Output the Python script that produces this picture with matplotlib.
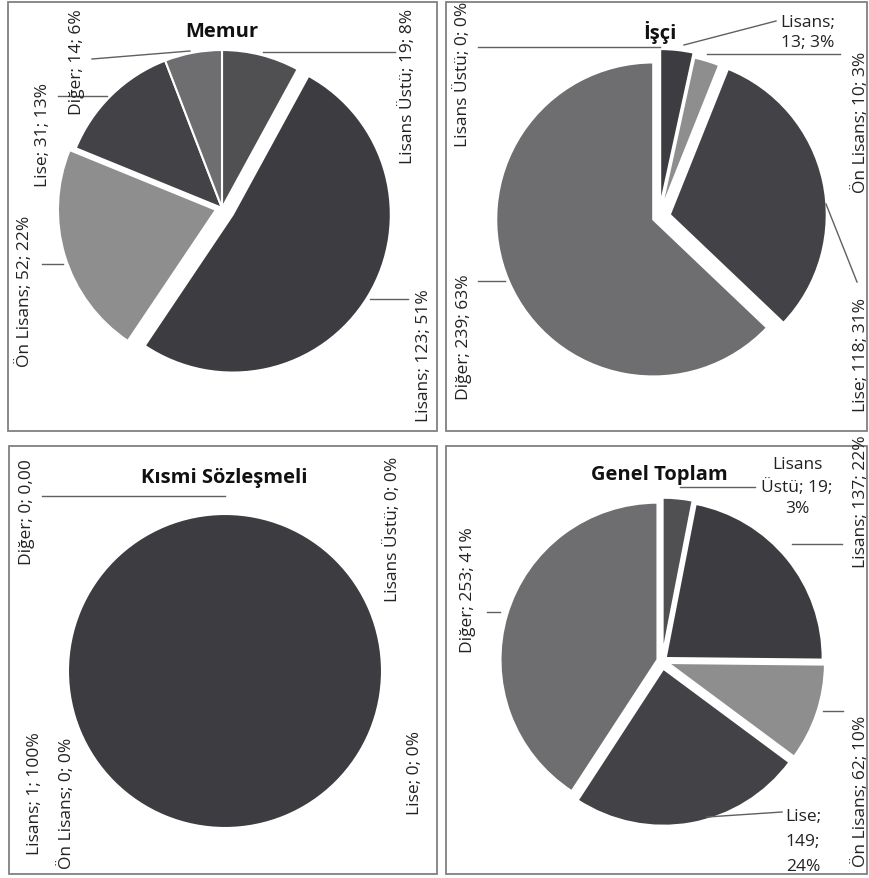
import matplotlib.pyplot as plt
from matplotlib.patches import Rectangle

plt.rcParams['font.family'] = ['Open Sans', 'DejaVu Sans']

# -------------------------------
# DATA
# -------------------------------

categories = ["Lisans Üstü", "Lisans", "Ön Lisans", "Lise", "Diğer"]

memur = [19, 123, 52, 31, 14]
isci = [0, 13, 10, 118, 239]
kismi = [0, 1, 0, 0, 0]
genel = [19, 137, 62, 149, 253]

titles = ["Memur", "İşçi", "Kısmi Sözleşmeli", "Genel Toplam"]

# the part-time chart prints its last share as a plain number
kismi_pct_text = {4: "0,00"}

slice_colors = ["#505053", "#3c3c41", "#8e8e8e", "#434347", "#6e6e70"]

# -------------------------------
# LAYOUT (pixels, origin top-left)
# -------------------------------

W, H = 869, 879

panels = [
    dict(values=memur, title=titles[0], box=(8, 3, 437, 432), title_xy=(222, 32),
         center=(222, 209), radius=158, explode=[0, 0.08, 0.04, 0, 0],
         labels=[(408, 86, 90), (424, 356, 90), (25, 291, 90), (43, 135, 90), (77, 62, 90)],
         leaders=[((395, 53), (263, 53)), ((408, 300), (370, 300)), ((42, 265), (63, 265)),
                  ((58, 97), (107, 97)), ((92, 60), (190, 52))]),
    dict(values=isci, title=titles[1], box=(446, 3, 867, 432), title_xy=(660, 32),
         center=(659, 218), radius=157, explode=[0, 0.07, 0.04, 0.07, 0.04],
         labels=[(463, 74, 90), (808, 33, 0, "{c};\n{v}; {p}", 1.35), (861, 122, 90),
                 (861, 355, 90), (464, 337, 90)],
         leaders=[((478, 48), (660, 48)), ((776, 22), (684, 46)), ((840, 55), (707, 55)),
                  ((857, 283), (826, 205)), ((478, 282), (505, 282))]),
    dict(values=kismi, title=titles[2], box=(9, 447, 437, 875), title_xy=(224, 478),
         center=(225, 672), radius=157, explode=[0, 0, 0, 0, 0],
         labels=[(393, 529, 90), (35, 794, 90), (67, 803, 90), (415, 773, 90), (27, 512, 90)],
         leaders=[None, None, None, None, ((42, 497), (225, 497))],
         pct_text=kismi_pct_text),
    dict(values=genel, title=titles[3], box=(446, 447, 867, 875), title_xy=(659, 475),
         center=(662, 662), radius=157, explode=[0.04, 0.03, 0.04, 0.05, 0.03],
         labels=[(797, 487, 0, "{cn}; {v};\n{p}", 1.45), (861, 502, 90), (861, 791, 90),
                 (803, 842, 0, "{c};\n{v};\n{p}", 1.75), (468, 590, 90)],
         leaders=[((755, 488), (680, 488)), ((842, 545), (792, 545)), ((843, 712), (823, 712)),
                  ((782, 813), (707, 818)), ((487, 613), (500, 613))]),
]


def fy(y):
    return H - y


def label_text(template, cat, value, pct):
    return template.format(c=cat, cn=cat.replace(" ", "\n"), v=value, p=pct)


# -------------------------------
# DRAWING
# -------------------------------

def draw_panel(ax, p):
    x0, y0, x1, y1 = p["box"]
    ax.add_patch(Rectangle((x0, fy(y1)), x1 - x0, y1 - y0, fill=False,
                           edgecolor="#808080", linewidth=1.3))

    values = p["values"]
    total = sum(values)
    cx, cy = p["center"]
    r = p["radius"]
    # pie() offsets wedges in data units, so scale the fractions by the radius
    wedges, _ = ax.pie(values, colors=slice_colors, startangle=90, counterclock=False,
                       explode=[e * r for e in p["explode"]], center=(cx, fy(cy)),
                       radius=r, wedgeprops=dict(edgecolor="white", linewidth=1.5))
    for w, v in zip(wedges, values):
        if v == 0:
            w.set_visible(False)

    tx, ty = p["title_xy"]
    ax.text(tx, fy(ty), p["title"], ha="center", va="center",
            fontsize=14.5, fontweight="bold", color="#111111")

    pct_text = p.get("pct_text", {})
    for i, (cat, v) in enumerate(zip(categories, values)):
        spec = p["labels"][i]
        x, y, rot = spec[:3]
        template = spec[3] if len(spec) > 3 else "{c}; {v}; {p}"
        spacing = spec[4] if len(spec) > 4 else 1.2
        pct = pct_text.get(i, f"{round(100 * v / total)}%")
        ax.text(x, fy(y), label_text(template, cat, v, pct), rotation=rot,
                ha="center", va="center", fontsize=12.5, color="#222222",
                linespacing=spacing)

        line = p["leaders"][i]
        if line is not None:
            (ax_, ay_), (bx_, by_) = line
            ax.plot([ax_, bx_], [fy(ay_), fy(by_)], color="#606060", linewidth=1)


fig = plt.figure(figsize=(W / 100, H / 100), dpi=100)
ax = fig.add_axes([0, 0, 1, 1])

for panel in panels:
    draw_panel(ax, panel)

ax.set_xlim(0, W)
ax.set_ylim(0, H)
ax.set_aspect("equal")
ax.axis("off")

fig.savefig("out.png", dpi=100, facecolor="white")
